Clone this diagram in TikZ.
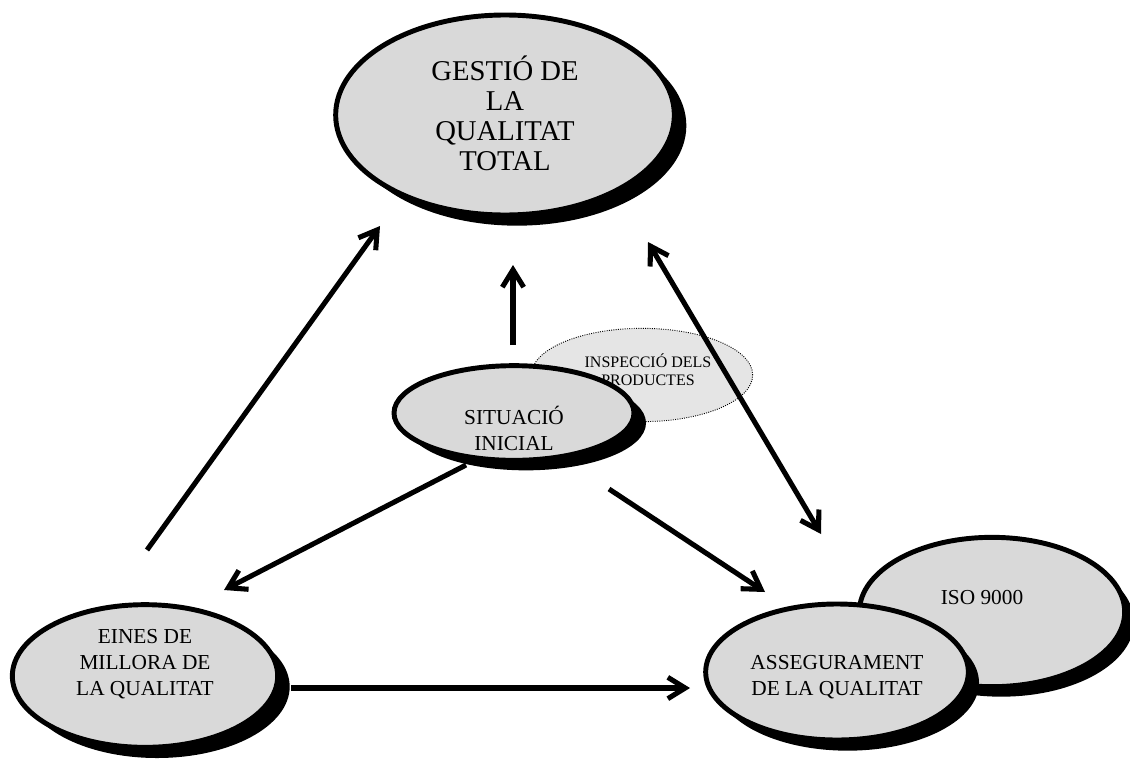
\documentclass[tikz,border=0pt]{standalone}
\usepackage{fontspec}
\setmainfont{Liberation Serif}
\usetikzlibrary{arrows.meta,shapes.geometric,shadows}
\definecolor{bubble}{gray}{0.85}
\definecolor{bubblelight}{gray}{0.9}
\begin{document}
\begin{tikzpicture}[x=0.75pt,y=-0.75pt,
  bubble/.style={ellipse,draw=black,line width=3.7pt,fill=bubble,inner sep=0pt},
  shade/.style 2 args={drop shadow={shadow xshift=#1,shadow yshift=#2,opacity=1,fill=black}},
  note/.style={ellipse,draw=black,densely dotted,line width=0.7pt,fill=bubblelight,inner sep=0pt},
  label/.style={align=center,inner sep=0pt},
  big/.style={label,font=\fontsize{21.5}{22.5}\selectfont},
  mid/.style={label,font=\fontsize{16}{19.5}\selectfont},
  small/.style={label,font=\fontsize{12}{13.5}\selectfont},
  link/.style={line width=3.8pt,-{Straight Barb[length=13pt,width=16pt]}},
  both/.style={line width=3.8pt,{Straight Barb[length=13pt,width=16pt]}-{Straight Barb[length=13pt,width=16pt]}}]
\useasboundingbox (0,0) rectangle (1130,760);

% secondary bubble behind the starting point
\node[note,minimum width=166pt,minimum height=70pt] (insp) at (642,375) {};
\node[small] (insp-t) at (648,370) {INSPECCIÓ DELS\\PRODUCTES};

% main bubbles
\node[bubble,shade={9pt}{-8pt},minimum width=254pt,minimum height=150pt] (gqt) at (505,115) {};
\node[big] (gqt-t) at (505,113) {GESTIÓ DE\\LA\\QUALITAT\\TOTAL};

\node[bubble,shade={9pt}{-7.5pt},minimum width=180pt,minimum height=71pt] (sit) at (514,413) {};
\node[mid] (sit-t) at (514,428) {SITUACIÓ\\INICIAL};

\node[bubble,shade={9pt}{-8pt},minimum width=199pt,minimum height=107pt] (eines) at (145,676) {};
\node[mid] (eines-t) at (145,664) {EINES DE\\MILLORA DE\\LA QUALITAT};

\node[bubble,shade={7pt}{-7.5pt},minimum width=199pt,minimum height=112pt] (iso) at (992,612) {};
\node[mid] (iso-t) at (982,597) {ISO 9000};

\node[bubble,shade={8pt}{-8pt},minimum width=197pt,minimum height=102pt] (asseg) at (837,672) {};
\node[mid] (asseg-t) at (837,677) {ASSEGURAMENT\\DE LA QUALITAT};

% arrow end points
\coordinate (e1) at (147,550);  \coordinate (g1) at (380,226);
\coordinate (s1) at (513,345);  \coordinate (g2) at (513,265);
\coordinate (g3) at (648,242);  \coordinate (a3) at (821,534);
\coordinate (s2) at (466,465);  \coordinate (e2) at (224,590);
\coordinate (s3) at (609,489);  \coordinate (a2) at (765,592);
\coordinate (e3) at (291,688);  \coordinate (a1) at (690,688);

\draw[link] (e1) -- (g1);
\draw[link] (s1) -- (g2);
\draw[both] (g3) -- (a3);
\draw[link] (s2) -- (e2);
\draw[link] (s3) -- (a2);
\draw[link] (e3) -- (a1);
\end{tikzpicture}
\end{document}
